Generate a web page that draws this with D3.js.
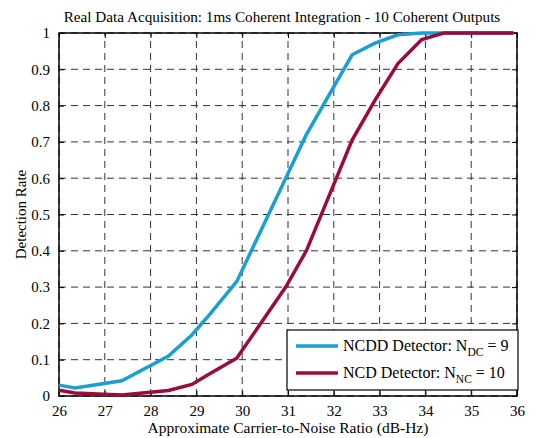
<!DOCTYPE html>
<html>
<head>
<meta charset="utf-8">
<script src="https://cdn.jsdelivr.net/npm/d3@7"></script>
<style>
  body { margin: 0; background: #fff; }
  svg text { font-family: "Liberation Serif", Tinos, "Times New Roman", Times, "DejaVu Serif", serif !important; fill: #000; }
</style>
</head>
<body>
<div id="chart"></div>
<script>
// carrier-to-noise values (dB-Hz) shared by both curves
var cn0 = [26.0, 26.35, 27.37, 28.39, 28.9, 29.3, 29.88, 30.95, 31.4, 32.4, 32.9, 33.4, 33.92, 34.4, 35.92]
// detection rates
var ncdd = [0.03, 0.022, 0.042, 0.11, 0.168, 0.226, 0.315, 0.6, 0.72, 0.94, 0.972, 0.995, 1, 1, 1]
var ncd = [0.016, 0.008, 0.003, 0.015, 0.032, 0.062, 0.104, 0.3, 0.4, 0.705, 0.815, 0.916, 0.982, 1, 1]
var xTicks = [26, 27, 28, 29, 30, 31, 32, 33, 34, 35, 36]
var yTicks = [0, 0.1, 0.2, 0.3, 0.4, 0.5, 0.6, 0.7, 0.8, 0.9, 1]

var width = 536
var height = 438
var margin = { top: 33, right: 19, bottom: 42, left: 59 }

var svg = d3.select("#chart")
    .append("svg")
    .attr("width", width)
    .attr("height", height)

var x = d3.scaleLinear().domain([26, 36]).range([margin.left, width - margin.right])
var y = d3.scaleLinear().domain([0, 1]).range([height - margin.bottom, margin.top])

// dashed grid
svg.append("g").selectAll("line")
    .data(xTicks)
    .enter()
    .append("line")
    .attr("x1", function (d) { return x(d) })
    .attr("x2", function (d) { return x(d) })
    .attr("y1", y(0))
    .attr("y2", y(1))
    .attr("stroke", "#333")
    .attr("stroke-width", 1)
    .attr("stroke-dasharray", "7,5")
svg.append("g").selectAll("line")
    .data(yTicks)
    .enter()
    .append("line")
    .attr("y1", function (d) { return y(d) })
    .attr("y2", function (d) { return y(d) })
    .attr("x1", x(26))
    .attr("x2", x(36))
    .attr("stroke", "#333")
    .attr("stroke-width", 1)
    .attr("stroke-dasharray", "7,5")

// axes with inward ticks on all sides
var fmtY = function (d) { return d3.format("")(+d.toFixed(1)) }
var bottom = svg.append("g")
    .attr("transform", "translate(0," + y(0) + ")")
    .call(d3.axisBottom(x).tickValues(xTicks).tickSizeInner(-5).tickSizeOuter(0).tickPadding(9))
var top = svg.append("g")
    .attr("transform", "translate(0," + y(1) + ")")
    .call(d3.axisTop(x).tickValues(xTicks).tickSizeInner(-5).tickSizeOuter(0).tickFormat(""))
var left = svg.append("g")
    .attr("transform", "translate(" + x(26) + ",0)")
    .call(d3.axisLeft(y).tickValues(yTicks).tickSizeInner(-5).tickSizeOuter(0).tickPadding(9).tickFormat(fmtY))
var right = svg.append("g")
    .attr("transform", "translate(" + x(36) + ",0)")
    .call(d3.axisRight(y).tickValues(yTicks).tickSizeInner(-5).tickSizeOuter(0).tickFormat(""))

svg.selectAll(".domain").remove()
svg.selectAll("g").attr("font-family", null)
svg.selectAll(".tick line").attr("stroke", "#000")
svg.selectAll(".tick text")
    .style("font-size", "15px")
left.selectAll(".tick text").attr("dy", "0.32em")

// frame
svg.append("rect")
    .attr("x", x(26))
    .attr("y", y(1))
    .attr("width", x(36) - x(26))
    .attr("height", y(0) - y(1))
    .attr("fill", "none")
    .attr("stroke", "#000")
    .attr("stroke-width", 1.5)

// curves
var series = [
    { name: "ncdd", values: ncdd, color: "#1a9fd3" },
    { name: "ncd", values: ncd, color: "#9b0b3d" }
]
var line = d3.line()
    .x(function (d) { return x(d[0]) })
    .y(function (d) { return y(d[1]) })
series.forEach(function (s) {
    svg.append("path")
        .datum(d3.zip(cn0, s.values))
        .attr("d", line)
        .attr("fill", "none")
        .attr("stroke", s.color)
        .attr("stroke-width", 3.5)
        .attr("stroke-linejoin", "miter")
})

// title and labels
svg.append("text")
    .attr("x", (x(26) + x(36)) / 2 - 6)
    .attr("y", 22)
    .attr("text-anchor", "middle")
    .style("font-size", "15.2px")
    .text("Real Data Acquisition: 1ms Coherent Integration - 10 Coherent Outputs")
svg.append("text")
    .attr("x", (x(26) + x(36)) / 2)
    .attr("y", 433)
    .attr("text-anchor", "middle")
    .style("font-size", "15.5px")
    .text("Approximate Carrier-to-Noise Ratio (dB-Hz)")
svg.append("text")
    .attr("transform", "translate(26," + ((y(0) + y(1)) / 2) + ") rotate(-90)")
    .attr("text-anchor", "middle")
    .style("font-size", "15px")
    .text("Detection Rate")

// legend
var lg = svg.append("g")
lg.append("rect")
    .attr("x", 287)
    .attr("y", 330)
    .attr("width", 231)
    .attr("height", 60)
    .attr("fill", "#fff")
    .attr("stroke", "#000")
    .attr("stroke-width", 1.2)
var legendItems = [
    { color: "#1a9fd3", label: "NCDD Detector: N", sub: "DC", tail: " = 9" },
    { color: "#9b0b3d", label: "NCD Detector: N", sub: "NC", tail: " = 10" }
]
legendItems.forEach(function (d, i) {
    var cy = 346 + i * 27
    lg.append("line")
        .attr("x1", 296).attr("x2", 338)
        .attr("y1", cy).attr("y2", cy)
        .attr("stroke", d.color)
        .attr("stroke-width", 3.5)
    var t = lg.append("text")
        .attr("x", 343)
        .attr("y", cy + 5)
        .style("font-size", "16px")
    t.append("tspan").text(d.label)
    t.append("tspan").attr("dy", 5).style("font-size", "11.5px").text(d.sub)
    t.append("tspan").attr("dy", -5).text(d.tail)
})
</script>
</body>
</html>
